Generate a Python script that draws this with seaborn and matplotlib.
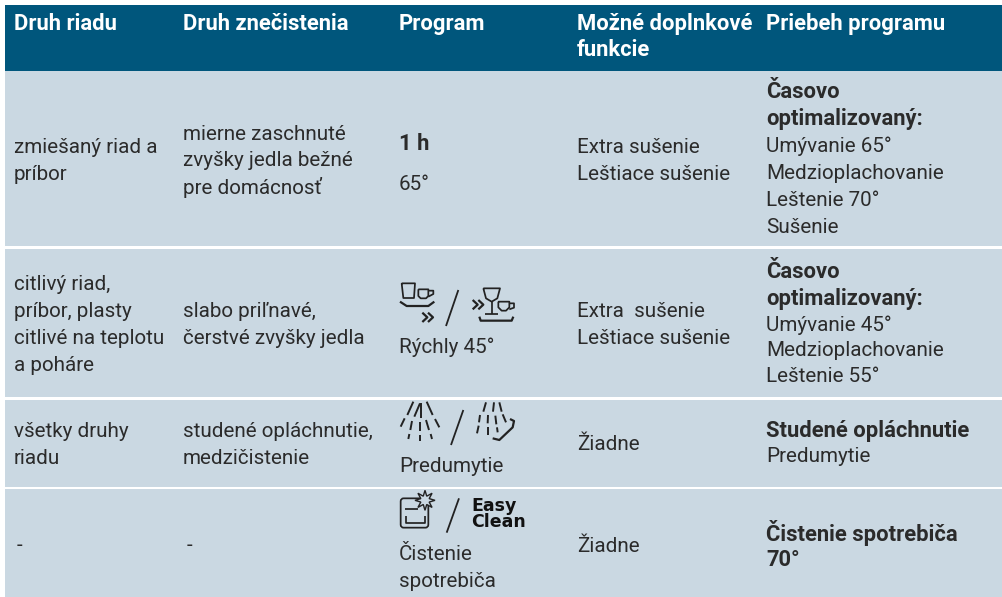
"""
Tabla de programas del lavavajillas, dibujada como mapa de calor de bandas + textos.
"""

import matplotlib
matplotlib.use('Agg')
import matplotlib.pyplot as plt
from matplotlib.colors import ListedColormap
from matplotlib.patches import FancyBboxPatch
import numpy as np
import seaborn as sns

W, H = 1002, 597

HEADERS = ['Druh riadu', 'Druh znečistenia', 'Program', 'Možné doplnkové\nfunkcie', 'Priebeh programu']
HEADER_X = [14, 183, 399, 577, 766]

COL_RIADU = ['zmiešaný riad a\npríbor',
             'citlivý riad,\npríbor, plasty\ncitlivé na teplotu\na poháre',
             'všetky druhy\nriadu',
             '-']
COL_ZNEC = ['mierne zaschnuté\nzvyšky jedla bežné\npre domácnosť',
            'slabo priľnavé,\nčerstvé zvyšky jedla',
            'studené opláchnutie,\nmedzičistenie',
            '-']
COL_FUNKCIE = ['Extra sušenie\nLeštiace sušenie',
               'Extra  sušenie\nLeštiace sušenie',
               'Žiadne',
               'Žiadne']
ROW_CENTER = [160, 324, 444, 545]

# bandas: 0 blanco, 1 cabecera, 2 fila
BAND_EDGES = [0, 5, 71, 246, 249, 397, 400, 487, 489, 597]
BAND_CLASS = [0, 1, 2, 0, 2, 0, 2, 0, 2]
BAND_COLORS = ['#ffffff', '#00567c', '#cad8e2']

TEXT_COLOR = '#2b2b2b'
ICON_COLOR = '#222222'
LINE_H = 27
SIZE = 14.9
SIZE_BOLD = 15.8

sns.set_theme(style='white')
plt.rcParams['font.family'] = ['Roboto', 'DejaVu Sans']

fig = plt.figure(figsize=(W / 100, H / 100), dpi=100)

# fondo
ax_bg = fig.add_axes([5 / W, 0, 997 / W, 1])
band = np.zeros((H, 1), dtype=int)
for i, c in enumerate(BAND_CLASS):
    band[BAND_EDGES[i]:BAND_EDGES[i + 1], 0] = c
sns.heatmap(band, cmap=ListedColormap(BAND_COLORS), vmin=-0.5, vmax=2.5, cbar=False,
            xticklabels=False, yticklabels=False, ax=ax_bg)

# capa superior en píxeles
ax = fig.add_axes([0, 0, 1, 1])
ax.set_xlim(0, W)
ax.set_ylim(H, 0)
ax.axis('off')
ax.patch.set_alpha(0)


def block(x, yc, s, bold=False, step=LINE_H):
    """Texto multilínea centrado verticalmente en yc."""
    lines = s.split('\n')
    y0 = yc - (len(lines) - 1) * step / 2
    for i, text in enumerate(lines):
        ax.text(x, y0 + i * step + 1, text, fontsize=SIZE_BOLD if bold else SIZE,
                color=TEXT_COLOR, va='center', ha='left',
                fontweight='bold' if bold else 'normal')


def stroke(origin, pts, lw=1.25):
    """Línea de icono; pts medidos en un recorte ampliado x3 con esquina en origin."""
    pts = np.array(pts, dtype=float) / 3
    ax.plot(pts[:, 0] + origin[0], pts[:, 1] + origin[1], color=ICON_COLOR, lw=lw,
            solid_capstyle='butt', solid_joinstyle='round')


def chevrons(origin, x0, y0):
    for dx in (0, 17):
        stroke(origin, [(x0 + dx, y0), (x0 + dx + 15, y0 + 14), (x0 + dx, y0 + 28)], lw=1.6)


def icons_row2():
    o = (390, 270)
    stroke(o, [(35, 40), (75, 40), (72, 84), (40, 84), (35, 40)])
    stroke(o, [(85, 58), (115, 58), (115, 78), (108, 85), (92, 85), (85, 78), (85, 58)])
    stroke(o, [(115, 62), (130, 62), (130, 72), (115, 80)])
    stroke(o, [(30, 95), (50, 108), (115, 108), (133, 95)], lw=1.6)
    chevrons(o, 97, 128)
    stroke(o, [(205, 60), (168, 168)], lw=1.3)
    chevrons(o, 248, 90)
    stroke(o, [(280, 55), (330, 55), (322, 85), (305, 95), (288, 85), (280, 55)])
    stroke(o, [(305, 95), (305, 132)])
    stroke(o, [(285, 132), (325, 132)])
    stroke(o, [(325, 95), (358, 95), (358, 112), (348, 122), (335, 122), (325, 112), (325, 95)])
    stroke(o, [(358, 100), (372, 100), (372, 113), (358, 118)])
    stroke(o, [(268, 140), (272, 152), (365, 152), (370, 140)], lw=1.6)


def icons_row3():
    o = (390, 395)
    rays = [[(70, 20), (52, 60)], [(44, 70), (32, 95)],
            [(90, 25), (73, 65)], [(66, 78), (61, 105)], [(58, 117), (55, 132)],
            [(92, 25), (92, 68)], [(90, 80), (90, 108)], [(90, 120), (90, 137)],
            [(110, 20), (128, 60)], [(135, 72), (148, 97)],
            [(108, 75), (117, 105)], [(122, 117), (126, 132)]]
    for r in rays:
        stroke(o, r, lw=1.4)
    stroke(o, [(220, 45), (183, 150)], lw=1.3)
    hand = [[(288, 22), (280, 50)], [(270, 60), (267, 82)], [(266, 92), (261, 115)],
            [(312, 22), (309, 50)], [(294, 60), (293, 85)], [(293, 95), (293, 120)],
            [(328, 22), (335, 50)], [(316, 62), (319, 88)], [(321, 97), (323, 112)],
            [(338, 58), (348, 82)]]
    for r in hand:
        stroke(o, r, lw=1.4)
    stroke(o, [(308, 130), (328, 135), (368, 97), (372, 78), (360, 72)], lw=1.6)


def icons_row4():
    o = (390, 395)
    box = FancyBboxPatch((390 + 32 / 3, 395 + 310 / 3), 83 / 3, 88 / 3,
                         boxstyle='round,pad=0,rounding_size=3',
                         fill=False, ec=ICON_COLOR, lw=1.25)
    ax.add_patch(box)
    stroke(o, [(45, 343), (85, 343)])
    stroke(o, [(48, 362), (48, 385), (104, 385), (104, 362)])
    angles = np.arange(16) * np.pi / 8
    radii = np.where(np.arange(16) % 2 == 0, 10, 4.5)
    ax.fill(390 + 105 / 3 + radii * np.cos(angles), 395 + 316 / 3 + radii * np.sin(angles),
            fc=BAND_COLORS[2], ec=ICON_COLOR, lw=1.0, zorder=3)
    stroke(o, [(207, 310), (170, 413)], lw=1.3)
    ax.text(471, 506, 'Easy', fontsize=12.5, fontweight='bold', family='DejaVu Sans',
            color='#111111', va='center')
    ax.text(471, 522, 'Clean', fontsize=12.5, fontweight='bold', family='DejaVu Sans',
            color='#111111', va='center')


# cabecera
for x, s in zip(HEADER_X, HEADERS):
    for i, text in enumerate(s.split('\n')):
        ax.text(x, 24 + i * 26, text, fontsize=15.8, color='white', fontweight='bold',
                va='center', ha='left')

# columnas de texto
for yc, a, b, c in zip(ROW_CENTER, COL_RIADU, COL_ZNEC, COL_FUNKCIE):
    block(14 if a != '-' else 17, yc, a)
    block(183 if b != '-' else 187, yc, b)
    block(577, yc, c)

# programa
block(399, 143, '1 h', bold=True)
block(399, 184, '65°')
block(399, 346, 'Rýchly 45°')
block(399, 466, 'Predumytie')
block(399, 567, 'Čistenie\nspotrebiča')
icons_row2()
icons_row3()
icons_row4()

# priebeh programu
block(766, 105, 'Časovo\noptimalizovaný:', bold=True)
block(766, 186, 'Umývanie 65°\nMedzioplachovanie\nLeštenie 70°\nSušenie')
block(766, 284, 'Časovo\noptimalizovaný:', bold=True)
block(766, 350, 'Umývanie 45°\nMedzioplachovanie\nLeštenie 55°', step=26)
block(766, 430, 'Studené opláchnutie', bold=True)
block(766, 456, 'Predumytie')
block(766, 545, 'Čistenie spotrebiča\n70°', bold=True)

fig.savefig('out.png', dpi=100)
